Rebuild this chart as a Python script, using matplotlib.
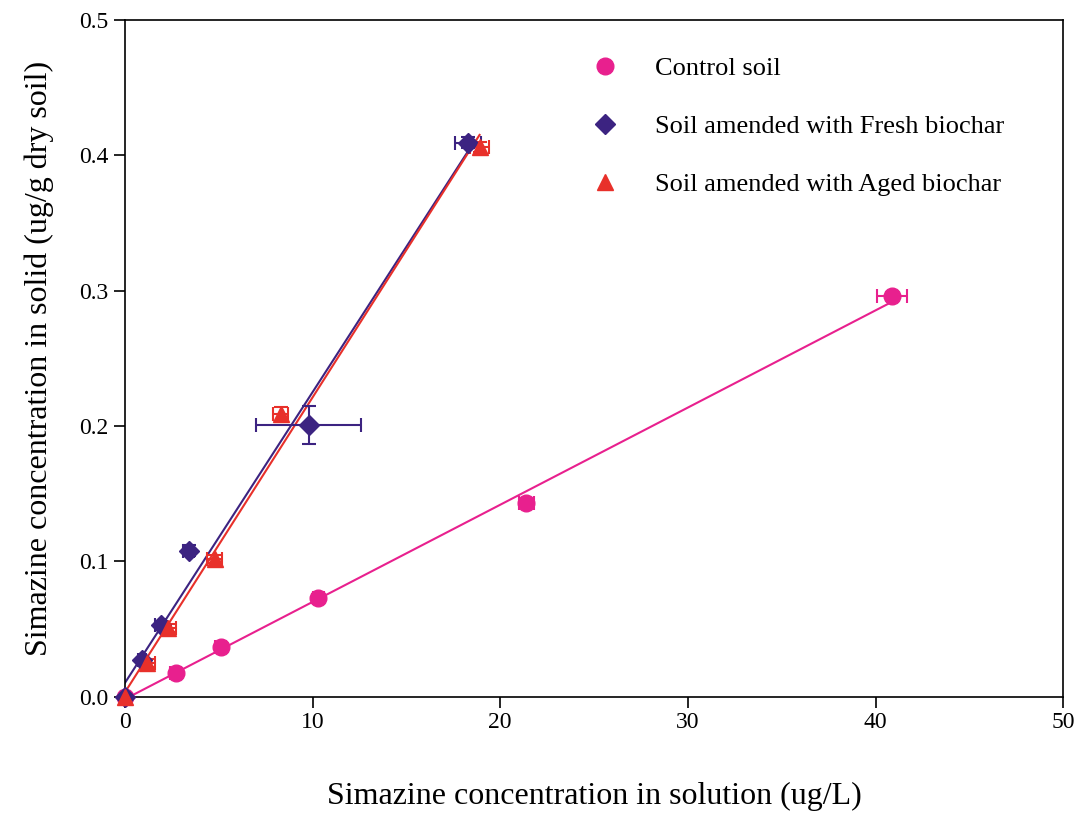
import numpy as np
import matplotlib.pyplot as plt

plt.rcParams['font.family'] = ['Liberation Serif', 'DejaVu Serif']

# control soil
ctrl_x = [0, 2.7, 5.1, 10.3, 21.4, 40.9]
ctrl_y = [0, 0.018, 0.037, 0.073, 0.143, 0.296]
ctrl_xerr = [0.2, 0.3, 0.3, 0.3, 0.4, 0.8]
ctrl_yerr = [0.002, 0.003, 0.003, 0.003, 0.003, 0.003]

# fresh biochar
fresh_x = [0, 0.9, 1.9, 3.4, 9.8, 18.3]
fresh_y = [0, 0.027, 0.053, 0.108, 0.201, 0.409]
fresh_xerr = [0.2, 0.2, 0.3, 0.3, 2.8, 0.7]
fresh_yerr = [0.002, 0.002, 0.003, 0.004, 0.014, 0.004]

# aged biochar
aged_x = [0, 1.2, 2.3, 4.8, 8.3, 18.9]
aged_y = [0, 0.025, 0.051, 0.102, 0.209, 0.406]
aged_xerr = [0.2, 0.4, 0.4, 0.4, 0.4, 0.5]
aged_yerr = [0.002, 0.003, 0.003, 0.003, 0.005, 0.004]

series = [
    ("Control soil", ctrl_x, ctrl_y, ctrl_xerr, ctrl_yerr, "#E8208E", "o", 12),
    ("Soil amended with Fresh biochar", fresh_x, fresh_y, fresh_xerr, fresh_yerr, "#3C2381", "D", 10.5),
    ("Soil amended with Aged biochar", aged_x, aged_y, aged_xerr, aged_yerr, "#E8302A", "^", 12),
]

fig = plt.figure(figsize=(10.86, 8.17), dpi=100)
ax = fig.add_axes([0.115, 0.147, 0.864, 0.829])

# fitted lines first
for name, x, y, xe, ye, c, m, ms in series:
    k, b = np.polyfit(x, y, 1)
    xx = np.array([0, max(x)])
    ax.plot(xx, k * xx + b, color=c, lw=1.5, zorder=2)

for name, x, y, xe, ye, c, m, ms in series:
    cont = ax.errorbar(x, y, xerr=xe, yerr=ye, fmt=m, color=c, ms=ms, mec=c,
                       ecolor=c, elinewidth=1.5, capsize=5, capthick=1.5,
                       label=name, zorder=3)
    for art in [cont[0], *cont[1], *cont[2]]:
        art.set_clip_on(False)

ax.set_xlim(0, 50)
ax.set_ylim(0, 0.5)
ax.set_xticks(np.arange(0, 51, 10))
ax.set_yticks(np.arange(0, 0.51, 0.1))
ax.set_yticklabels(["%.1f" % v for v in np.arange(0, 0.51, 0.1)])
ax.tick_params(direction='out', length=8, width=1.2, labelsize=17, pad=4)
ax.tick_params(axis='x', pad=3)
for s in ax.spines.values():
    s.set_linewidth(1.2)
ax.set_xlabel("Simazine concentration in solution (ug/L)", fontsize=23, labelpad=35)
ax.set_ylabel("Simazine concentration in solid (ug/g dry soil)", fontsize=23, labelpad=18)

handles, labels = ax.get_legend_handles_labels()
handles = [h[0] for h in handles]
ax.legend(handles, labels, loc='upper left', bbox_to_anchor=(0.472, 0.98),
          frameon=False, fontsize=19, labelspacing=1.3, handletextpad=1.4,
          handlelength=1.0)

fig.savefig("out.png", dpi=100)
